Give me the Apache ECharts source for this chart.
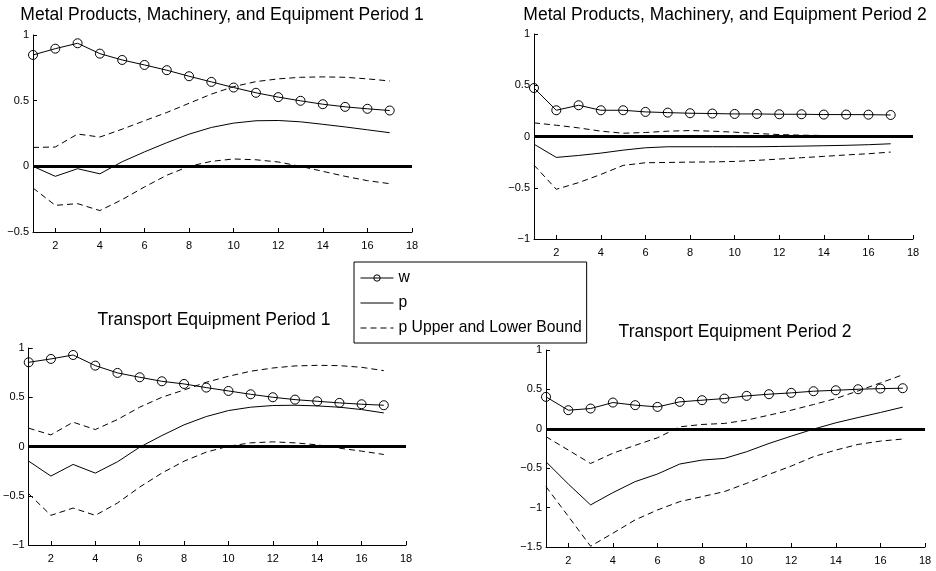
<!DOCTYPE html>
<html>
<head>
<meta charset="utf-8">
<script src="https://cdn.jsdelivr.net/npm/echarts@6/dist/echarts.min.js"></script>
<style>
  html, body { margin: 0; padding: 0; background: #fff; }
  #chart { width: 936px; height: 571px; }
</style>
</head>
<body>
<div id="chart"></div>
<script>
// Impulse horizons (periods after the shock)
const horizon = [1, 2, 3, 4, 5, 6, 7, 8, 9, 10, 11, 12, 13, 14, 15, 16, 17];

// Tick labels
const xTicks = [2, 4, 6, 8, 10, 12, 14, 16, 18];
const yTicksMetal1 = [-0.5, 0, 0.5, 1];
const yTicksMetal2 = [-1, -0.5, 0, 0.5, 1];
const yTicksTransport1 = [-1, -0.5, 0, 0.5, 1];
const yTicksTransport2 = [-1.5, -1, -0.5, 0, 0.5, 1];

// Panel titles
const titles = [
  'Metal Products, Machinery, and Equipment Period 1',
  'Metal Products, Machinery, and Equipment Period 2',
  'Transport Equipment Period 1',
  'Transport Equipment Period 2'
];

// Legend names
const seriesNames = ['w', 'p', 'p Upper and Lower Bound'];

// Metal Products, Machinery, and Equipment - Period 1
const metal1W = [0.848, 0.896, 0.937, 0.858, 0.81, 0.772, 0.732, 0.686, 0.643, 0.60, 0.56, 0.527, 0.499, 0.473, 0.453, 0.438, 0.425];
const metal1P = [0.0, -0.076, -0.018, -0.057, 0.035, 0.11, 0.18, 0.245, 0.296, 0.329, 0.347, 0.349, 0.339, 0.32, 0.30, 0.278, 0.256];
const metal1Upper = [0.144, 0.147, 0.246, 0.223, 0.283, 0.347, 0.41, 0.48, 0.55, 0.607, 0.645, 0.666, 0.678, 0.681, 0.678, 0.666, 0.65];
const metal1Lower = [-0.165, -0.297, -0.284, -0.337, -0.253, -0.157, -0.068, 0.0, 0.038, 0.056, 0.05, 0.033, 0.0, -0.038, -0.076, -0.109, -0.132];

// Metal Products, Machinery, and Equipment - Period 2
const metal2W = [0.473, 0.256, 0.305, 0.256, 0.256, 0.24, 0.233, 0.227, 0.224, 0.22, 0.22, 0.217, 0.217, 0.214, 0.214, 0.213, 0.21];
const metal2P = [-0.075, -0.204, -0.185, -0.162, -0.133, -0.11, -0.1, -0.1, -0.1, -0.1, -0.1, -0.097, -0.094, -0.09, -0.086, -0.08, -0.071];
const metal2Upper = [0.133, 0.11, 0.084, 0.052, 0.032, 0.039, 0.052, 0.058, 0.052, 0.042, 0.029, 0.019, 0.013, 0.01, 0.006, 0.005, 0.003];
const metal2Lower = [-0.279, -0.515, -0.45, -0.37, -0.282, -0.256, -0.253, -0.25, -0.248, -0.243, -0.233, -0.22, -0.207, -0.194, -0.18, -0.168, -0.152];

// Transport Equipment - Period 1
const transport1W = [0.855, 0.889, 0.929, 0.821, 0.747, 0.703, 0.662, 0.635, 0.598, 0.564, 0.53, 0.5, 0.476, 0.459, 0.443, 0.429, 0.419];
const transport1P = [-0.149, -0.3, -0.182, -0.27, -0.155, -0.007, 0.111, 0.22, 0.304, 0.365, 0.399, 0.416, 0.419, 0.412, 0.399, 0.375, 0.341];
const transport1Upper = [0.186, 0.118, 0.247, 0.172, 0.274, 0.399, 0.5, 0.574, 0.652, 0.713, 0.764, 0.797, 0.818, 0.824, 0.821, 0.804, 0.77];
const transport1Lower = [-0.48, -0.699, -0.625, -0.699, -0.574, -0.412, -0.27, -0.149, -0.057, 0.003, 0.037, 0.047, 0.037, 0.017, -0.017, -0.047, -0.081];

// Transport Equipment - Period 2
const transport2W = [0.405, 0.236, 0.257, 0.333, 0.30, 0.278, 0.342, 0.363, 0.384, 0.418, 0.439, 0.456, 0.477, 0.489, 0.502, 0.51, 0.515];
const transport2P = [-0.418, -0.70, -0.966, -0.81, -0.67, -0.574, -0.447, -0.397, -0.376, -0.291, -0.186, -0.093, -0.004, 0.076, 0.143, 0.207, 0.275];
const transport2Upper = [-0.10, -0.27, -0.44, -0.31, -0.21, -0.114, 0.025, 0.055, 0.068, 0.11, 0.173, 0.236, 0.308, 0.384, 0.481, 0.582, 0.685];
const transport2Lower = [-0.734, -1.11, -1.49, -1.325, -1.156, -1.03, -0.924, -0.861, -0.797, -0.692, -0.578, -0.473, -0.354, -0.27, -0.198, -0.156, -0.13];

const panels = [
  { w: metal1W, p: metal1P, upper: metal1Upper, lower: metal1Lower, yTicks: yTicksMetal1 },
  { w: metal2W, p: metal2P, upper: metal2Upper, lower: metal2Lower, yTicks: yTicksMetal2 },
  { w: transport1W, p: transport1P, upper: transport1Upper, lower: transport1Lower, yTicks: yTicksTransport1 },
  { w: transport2W, p: transport2P, upper: transport2Upper, lower: transport2Lower, yTicks: yTicksTransport2 }
];

// Layout of the 2x2 subplot grid
const gridBoxes = [
  { left: 33, top: 35, width: 379, height: 197 },
  { left: 534, top: 34, width: 379, height: 205 },
  { left: 27, top: 348, width: 379, height: 197 },
  { left: 546, top: 350, width: 379, height: 197 }
];
const titlePos = [
  { x: 222, y: 6 },
  { x: 725, y: 6 },
  { x: 214, y: 311 },
  { x: 735, y: 323 }
];

const FONT = '"Liberation Sans", Arial, Helvetica, sans-serif';
const INK = '#000';
const HOLLOW = 'rgba(255,255,255,0)';

const pairs = (vals) => horizon.map((h, i) => [h, vals[i]]);
const tickFmt = (v) => (v < 0 ? '\u2212' + Math.abs(v) : String(v));

const option = {
  animation: false,
  backgroundColor: '#fff',
  textStyle: { fontFamily: FONT, color: INK },
  title: titles.map((t, i) => ({
    text: t,
    left: titlePos[i].x,
    top: titlePos[i].y,
    textAlign: 'center',
    padding: 0,
    textStyle: { fontFamily: FONT, fontSize: 17.5, fontWeight: 'normal', color: INK }
  })),
  legend: {
    orient: 'vertical',
    left: 354,
    top: 262,
    padding: [8, 5, 7, 6],
    itemGap: 9,
    itemWidth: 33,
    itemHeight: 8,
    borderColor: INK,
    borderWidth: 1,
    backgroundColor: '#fff',
    selectedMode: false,
    textStyle: { fontFamily: FONT, fontSize: 15.7, color: INK },
    lineStyle: { width: 1 },
    itemStyle: { borderWidth: 1 },
    data: [
      { name: seriesNames[0] },
      { name: seriesNames[1], itemStyle: { opacity: 0 } },
      { name: seriesNames[2], itemStyle: { opacity: 0 } }
    ]
  },
  grid: gridBoxes.map(g => Object.assign({}, g)),
  xAxis: panels.map((_, i) => ({
    type: 'value',
    gridIndex: i,
    min: 1,
    max: 18,
    axisLine: { show: true, onZero: false, lineStyle: { color: INK, width: 1 } },
    axisTick: { show: true, inside: true, length: 4, customValues: xTicks, lineStyle: { color: INK } },
    axisLabel: { customValues: xTicks, margin: 8, fontSize: 11, color: INK, fontFamily: FONT },
    splitLine: { show: false }
  })),
  yAxis: panels.map((pn, i) => ({
    type: 'value',
    gridIndex: i,
    min: pn.yTicks[0],
    max: pn.yTicks[pn.yTicks.length - 1],
    axisLine: { show: true, onZero: false, lineStyle: { color: INK, width: 1 } },
    axisTick: { show: true, inside: true, length: 4, customValues: pn.yTicks, lineStyle: { color: INK } },
    axisLabel: { customValues: pn.yTicks, margin: 4, fontSize: 11, color: INK, fontFamily: FONT, formatter: tickFmt },
    splitLine: { show: false }
  })),
  series: []
};

panels.forEach((pn, i) => {
  option.series.push(
    {
      name: seriesNames[0],
      type: 'line',
      xAxisIndex: i, yAxisIndex: i,
      data: pairs(pn.w),
      symbol: 'circle',
      symbolSize: 9,
      showSymbol: true,
      itemStyle: { color: HOLLOW, borderColor: INK, borderWidth: 1 },
      lineStyle: { color: INK, width: 1 },
      z: 5
    },
    {
      name: seriesNames[1],
      type: 'line',
      xAxisIndex: i, yAxisIndex: i,
      data: pairs(pn.p),
      symbol: 'none',
      itemStyle: { color: INK },
      lineStyle: { color: INK, width: 1 },
      z: 3,
      markLine: {
        silent: true,
        symbol: 'none',
        label: { show: false },
        lineStyle: { color: INK, width: 3, type: 'solid' },
        data: [{ yAxis: 0 }]
      }
    },
    {
      name: seriesNames[2],
      type: 'line',
      xAxisIndex: i, yAxisIndex: i,
      data: pairs(pn.upper),
      symbol: 'none',
      itemStyle: { color: INK },
      lineStyle: { color: INK, width: 1, type: [6, 4] },
      z: 3
    },
    {
      name: seriesNames[2],
      type: 'line',
      xAxisIndex: i, yAxisIndex: i,
      data: pairs(pn.lower),
      symbol: 'none',
      itemStyle: { color: INK },
      lineStyle: { color: INK, width: 1, type: [6, 4] },
      z: 3
    }
  );
});

const chart = echarts.init(document.getElementById('chart'), null, { renderer: 'canvas' });
chart.setOption(option);
</script>
</body>
</html>
